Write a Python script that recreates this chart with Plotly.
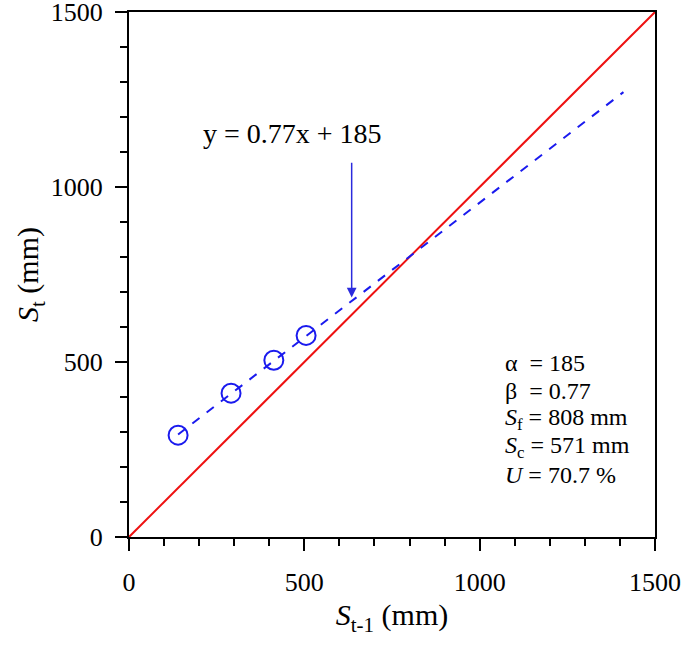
import plotly.graph_objects as go

obs_x = [140, 291, 413, 505]
obs_y = [291, 411, 505, 576]
fit_x = [140, 1410]
fit_y = [293, 1271]
one_x = [0, 1500]
one_y = [0, 1500]
tick_vals = [0, 500, 1000, 1500]
tick_text = ["0", "500", "1000", "1500"]
stats_lines = ["α  = 185", "β  = 0.77", "<i>S</i><sub>f</sub> = 808 mm",
               "<i>S</i><sub>c</sub> = 571 mm", "<i>U</i> = 70.7 %"]
stats_y = [496, 416, 336, 257, 177]
eq_text = "y = 0.77x + 185"
eq_pos = (465, 1152)
arrow_tip = (635, 684)
arrow_tail_y = 1089

FONT = "Liberation Serif"

fig = go.Figure()
fig.add_trace(go.Scatter(x=one_x, y=one_y, mode="lines",
                         line=dict(color="#ee1111", width=2), showlegend=False))
fig.add_trace(go.Scatter(x=fit_x, y=fit_y, mode="lines",
                         line=dict(color="#1a1aee", width=2, dash="dash"), showlegend=False))
fig.add_trace(go.Scatter(x=obs_x, y=obs_y, mode="markers",
                         marker=dict(symbol="circle-open", size=19, color="#1a1aee",
                                     line=dict(width=2, color="#1a1aee")),
                         showlegend=False))

fig.add_annotation(x=arrow_tip[0], y=arrow_tip[1], ax=arrow_tip[0], ay=arrow_tail_y,
                   xref="x", yref="y", axref="x", ayref="y",
                   showarrow=True, arrowhead=2, arrowsize=1.3, arrowwidth=1.5,
                   arrowcolor="#2b2bdd", text=" ", font=dict(family=FONT, size=10))
fig.add_annotation(x=eq_pos[0], y=eq_pos[1], xref="x", yref="y",
                   text=eq_text, showarrow=False,
                   font=dict(family=FONT, size=28, color="black"))

for line, yy in zip(stats_lines, stats_y):
    fig.add_annotation(x=1066, y=yy, xref="x", yref="y",
                       text=line, showarrow=False, xanchor="left",
                       font=dict(family=FONT, size=24, color="black"))

axis_common = dict(
    range=[0, 1500], tickvals=tick_vals, ticktext=tick_text,
    showline=True, linecolor="black", linewidth=2, mirror=True,
    ticks="outside", ticklen=12, tickwidth=2, tickcolor="black",
    minor=dict(dtick=100, ticks="outside", ticklen=7, tickwidth=2, tickcolor="black"),
    showgrid=False, zeroline=False, automargin=False, ticklabeloverflow="allow",
    tickfont=dict(family=FONT, size=26, color="black"),
)

fig.update_xaxes(**axis_common, ticklabelstandoff=9,
                 title=dict(text="<i>S</i><sub>t-1</sub> (mm)",
                            font=dict(family=FONT, size=30, color="black"), standoff=8))
fig.update_yaxes(**axis_common, ticklabelstandoff=7,
                 title=dict(text="<i>S</i><sub>t</sub> (mm)",
                            font=dict(family=FONT, size=30, color="black"), standoff=3))

fig.update_layout(width=685, height=645,
                  margin=dict(l=129, r=30, t=12, b=108),
                  plot_bgcolor="white", paper_bgcolor="white")

fig.write_html("out.html", config={"displayModeBar": False},
               post_script="document.body.style.margin='0';document.body.style.overflow='hidden';")
